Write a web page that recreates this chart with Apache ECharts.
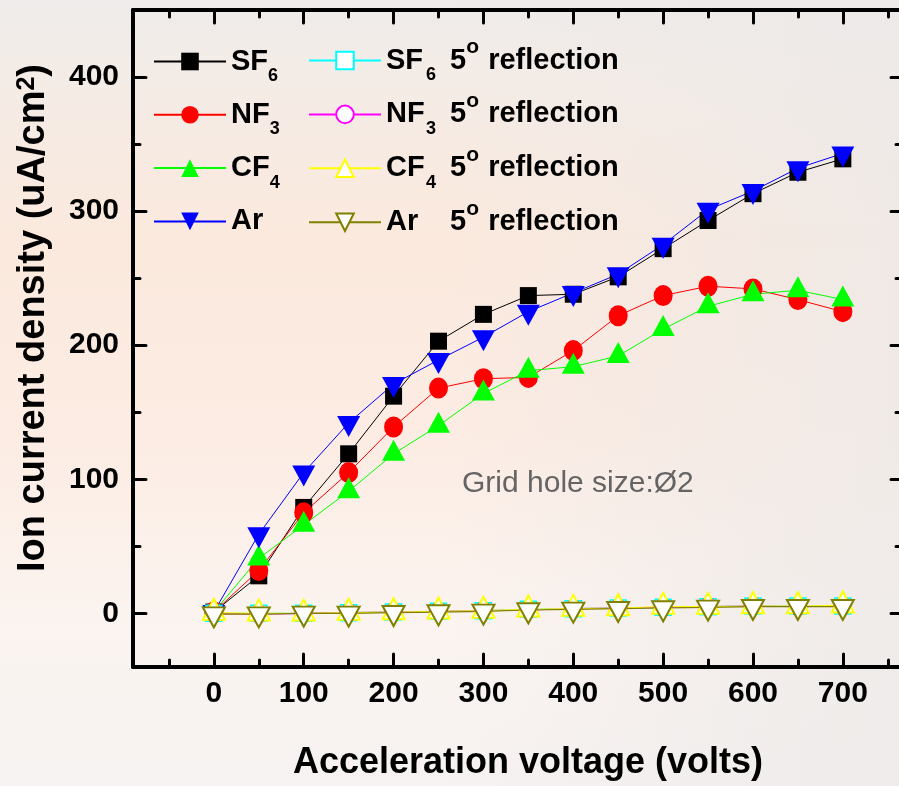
<!DOCTYPE html>
<html><head><meta charset="utf-8">
<script src="https://cdn.jsdelivr.net/npm/echarts@6/dist/echarts.min.js"></script>
<style>html,body{margin:0;padding:0;}#c{width:899px;height:786px;}</style>
</head><body><div id="c"></div>
<script>
// ---- data ----
const voltages = [0, 50, 100, 150, 200, 250, 300, 350, 400, 450, 500, 550, 600, 650, 700];
const sf6 = [1, 28, 79, 119, 162, 203, 223, 237, 238, 251, 272, 293, 313, 329, 339];
const nf3 = [1, 32, 75, 105, 139, 168, 175, 176, 196, 222, 237, 244, 242, 234, 225];
const cf4 = [1, 41, 66, 91, 119, 140, 164, 181, 184, 192, 212, 229, 238, 241, 234];
const ar  = [1, 59, 105, 142, 171, 189, 206, 225, 239, 253, 275, 301, 315, 332, 343];
const sf6Refl = [0, 0, 0, 0.5, 1, 1.5, 2, 3, 3.5, 4, 4.5, 5, 5.5, 5.5, 5.5];
const nf3Refl = [0, -0.5, 0, 0.5, 1, 1.5, 2, 2.5, 3.5, 4, 4.5, 5, 5.5, 5, 5.5];
const cf4Refl = [0.5, 0, 0, 0.5, 1, 1.5, 2, 3, 3.5, 4, 5, 5, 5.5, 5.5, 6];
const arRefl  = [-0.5, -0.5, 0, 0, 0.5, 1, 1.5, 2.5, 3, 3.5, 4, 4.5, 5, 5, 5];
const seriesNames = ['SF6', 'NF3', 'CF4', 'Ar', 'SF6 5° reflection', 'NF3 5° reflection', 'CF4 5° reflection', 'Ar 5° reflection'];
const xTickMajor = [0, 100, 200, 300, 400, 500, 600, 700];
const xTickMinor = [-50, 50, 150, 250, 350, 450, 550, 650, 750];
const yTickMajor = [0, 100, 200, 300, 400];
const yTickMinor = [50, 150, 250, 350];
const xTitle = 'Acceleration voltage (volts)';
const yTitle = 'Ion current density (uA/cm{sup|2})';
const note = 'Grid hole size:Ø2';

// ---- chart ----
const FF = '"Liberation Sans", Arial, Helvetica, sans-serif';
const pairs = v => voltages.map((x, i) => [x, v[i]]);

function mainSeries(name, vals, symbol, size, color, extra) {
  return Object.assign({
    name, type: 'line', data: pairs(vals), symbol, symbolSize: size,
    itemStyle: { color }, lineStyle: { color, width: 1 },
    emphasis: { disabled: true }, z: 2
  }, extra || {});
}
function reflSeries(name, vals, symbol, size, color, bw, extra) {
  return Object.assign({
    name, type: 'line', data: pairs(vals), symbol, symbolSize: size,
    itemStyle: { color: '#ffffff', borderColor: color, borderWidth: bw },
    lineStyle: { color, width: 1.2 },
    emphasis: { disabled: true }, z: 3
  }, extra || {});
}

const series = [
  mainSeries(seriesNames[0], sf6, 'rect', 17, '#000000'),
  mainSeries(seriesNames[1], nf3, 'circle', [19, 21], '#ff0000'),
  mainSeries(seriesNames[2], cf4, 'triangle', [23, 21], '#00ff00', { symbolOffset: [0, -3.5] }),
  mainSeries(seriesNames[3], ar, 'triangle', [23, 21], '#0000ff', { symbolRotate: 180, symbolOffset: [0, 3.5] }),
  reflSeries(seriesNames[4], sf6Refl, 'rect', 16, '#00ffff', 1.5),
  reflSeries(seriesNames[5], nf3Refl, 'circle', 17, '#ff00ff', 1.5),
  reflSeries(seriesNames[6], cf4Refl, 'triangle', [22, 21], '#ffff00', 2, { symbolOffset: [0, -3.3] }),
  reflSeries(seriesNames[7], arRefl, 'triangle', [22, 20], '#808000', 2, { symbolRotate: 180, symbolOffset: [0, 3.3] })
];

const legendLabels = {
  'SF6': '{n|SF}{s|6}', 'NF3': '{n|NF}{s|3}', 'CF4': '{n|CF}{s|4}', 'Ar': '{n|Ar}',
  'SF6 5° reflection': '{w|SF}{s2|6}{d|5}{o|o}{r|reflection}',
  'NF3 5° reflection': '{w|NF}{s2|3}{d|5}{o|o}{r|reflection}',
  'CF4 5° reflection': '{w|CF}{s2|4}{d|5}{o|o}{r|reflection}',
  'Ar 5° reflection': '{w|Ar}{s2| }{d|5}{o|o}{r|reflection}'
};
const richLegend = {
  n: { fontFamily: FF, fontSize: 29, fontWeight: 'bold', color: '#000', lineHeight: 47, verticalAlign: 'middle' },
  w: { fontFamily: FF, fontSize: 29, fontWeight: 'bold', color: '#000', lineHeight: 47, verticalAlign: 'middle', width: 40 },
  s: { fontFamily: FF, fontSize: 18, fontWeight: 'bold', color: '#000', lineHeight: 14, verticalAlign: 'bottom' },
  s2: { fontFamily: FF, fontSize: 18, fontWeight: 'bold', color: '#000', lineHeight: 14, verticalAlign: 'bottom', width: 24 },
  d: { fontFamily: FF, fontSize: 29, fontWeight: 'bold', color: '#000', lineHeight: 47, verticalAlign: 'middle' },
  o: { fontFamily: FF, fontSize: 21, color: '#000', lineHeight: 27, verticalAlign: 'top', width: 22 },
  r: { fontFamily: FF, fontSize: 29, fontWeight: 'bold', color: '#000', lineHeight: 47, verticalAlign: 'middle' }
};
function legendCfg(left, top, gap, names, hollow) {
  return {
    left, top, orient: 'vertical', padding: 0, itemWidth: 72, itemHeight: 22, itemGap: gap,
    selectedMode: false,
    data: names.map(n => hollow ? { name: n, itemStyle: { borderWidth: 2 } } : { name: n }),
    formatter: n => legendLabels[n],
    textStyle: { fontFamily: FF, fontSize: 29, fontWeight: 'bold', color: '#000', rich: richLegend }
  };
}

const axisLine = { onZero: false, lineStyle: { color: '#000', width: 4 } };
const tickLine = { color: '#000', width: 3, cap: 'round' };
const labelStyle = { fontFamily: FF, fontSize: 30, fontWeight: 'bold', color: '#000' };
function xAx(grid, pos, ticks, len, showLine, showLabel) {
  return {
    gridIndex: grid, type: 'value', position: pos, min: -90, max: 762.5,
    axisLine: Object.assign({ show: showLine }, axisLine),
    axisTick: { show: true, inside: true, length: len, lineStyle: tickLine, customValues: ticks },
    axisLabel: Object.assign({ show: showLabel, margin: 12, customValues: ticks }, labelStyle),
    splitLine: { show: false }, minorTick: { show: false }
  };
}
function yAx(grid, pos, ticks, len, showLine, showLabel) {
  return {
    gridIndex: grid, type: 'value', position: pos, min: -40, max: 450,
    axisLine: Object.assign({ show: showLine }, axisLine),
    axisTick: { show: true, inside: true, length: len, lineStyle: tickLine, customValues: ticks },
    axisLabel: Object.assign({ show: showLabel, margin: 14, customValues: ticks }, labelStyle),
    splitLine: { show: false }, minorTick: { show: false }
  };
}

const gridBox = { left: 133, right: 0, top: 10, bottom: 119 };
const option = {
  animation: false,
  backgroundColor: {
    type: 'linear', x: 0, y: 0, x2: 0, y2: 1,
    colorStops: [
      { offset: 0, color: '#eeebea' }, { offset: 0.08, color: '#f3ece7' },
      { offset: 0.3, color: '#fbe9dd' }, { offset: 0.55, color: '#fcece3' },
      { offset: 0.8, color: '#fbf4f0' }, { offset: 1, color: '#f6f2f1' }
    ]
  },
  grid: [Object.assign({}, gridBox), Object.assign({}, gridBox)],
  xAxis: [
    xAx(0, 'bottom', xTickMajor, 13, true, true),
    xAx(0, 'top', xTickMajor, 13, true, false),
    xAx(1, 'bottom', xTickMinor, 7, false, false),
    xAx(1, 'top', xTickMinor, 7, false, false)
  ],
  yAxis: [
    yAx(0, 'left', yTickMajor, 13, true, true),
    yAx(0, 'right', yTickMajor, 8, false, false),
    yAx(1, 'left', yTickMinor, 7, false, false),
    yAx(1, 'right', yTickMinor, 3, false, false)
  ],
  legend: [
    legendCfg(153, 47, 15.3, seriesNames.slice(0, 4), false),
    legendCfg(308, 37, 6.9, seriesNames.slice(4), true)
  ],
  graphic: [
    { type: 'rect', z: -10, silent: true, shape: { x: 0, y: 0, width: 899, height: 786 },
      style: { fill: { type: 'linear', x: 0, y: 0, x2: 1, y2: 0, colorStops: [
        { offset: 0, color: 'rgba(236,233,232,0)' }, { offset: 0.5, color: 'rgba(236,233,232,0)' },
        { offset: 1, color: 'rgba(236,233,232,0.75)' } ] } } },
    { type: 'text', x: 34, y: 318, rotation: Math.PI / 2, silent: true,
      style: { text: yTitle, fill: '#000', fontFamily: FF, fontSize: 38, fontWeight: 'bold',
        align: 'center', verticalAlign: 'middle', textAlign: 'center', textVerticalAlign: 'middle',
        rich: {
          sup: { fontFamily: FF, fontSize: 25, fontWeight: 'bold', fill: '#000', lineHeight: 30, verticalAlign: 'top' }
        } } },
    { type: 'text', x: 528, y: 763, silent: true,
      style: { text: xTitle, fill: '#000', fontFamily: FF, fontSize: 36, fontWeight: 'bold',
        align: 'center', verticalAlign: 'middle', textAlign: 'center', textVerticalAlign: 'middle' } },
    { type: 'text', x: 462, y: 484, silent: true,
      style: { text: note, fill: '#646464', fontFamily: FF, fontSize: 30,
        align: 'left', verticalAlign: 'middle', textAlign: 'left', textVerticalAlign: 'middle' } }
  ],
  series
};
const chart = echarts.init(document.getElementById('c'), null, { renderer: 'canvas' });
chart.setOption(option);
</script>
</body></html>
